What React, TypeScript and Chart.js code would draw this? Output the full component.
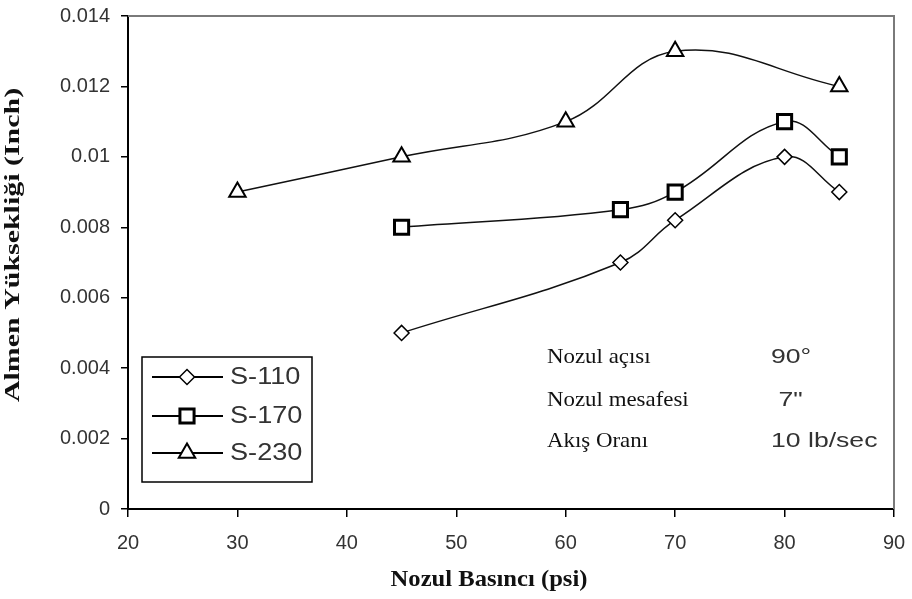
import React, { useEffect, useRef } from 'react';
import { Chart, registerables } from 'chart.js';

Chart.register(...registerables);

// ---- data ----
const xTickValues = [20, 30, 40, 50, 60, 70, 80, 90];
const yTickValues = [0, 0.002, 0.004, 0.006, 0.008, 0.01, 0.012, 0.014];
const yTickLabels = ['0', '0.002', '0.004', '0.006', '0.008', '0.01', '0.012', '0.014'];
const seriesNames = ['S-110', 'S-170', 'S-230'];
const pressureS110 = [45, 65, 70, 80, 85];
const heightS110 = [0.005, 0.007, 0.0082, 0.01, 0.009];
const pressureS170 = [45, 65, 70, 80, 85];
const heightS170 = [0.008, 0.0085, 0.009, 0.011, 0.01];
const pressureS230 = [30, 45, 60, 70, 85];
const heightS230 = [0.009, 0.01, 0.011, 0.013, 0.012];
const xTitle = 'Nozul Basıncı (psi)';
const yTitle = 'Almen Yüksekliği (Inch)';
const noteLabels = ['Nozul açısı', 'Nozul mesafesi', 'Akış Oranı'];
const noteValues = ['90°', ' 7"', '10 lb/sec'];

const SANS = '"Liberation Sans", Arial, sans-serif';
const SERIF = '"Liberation Serif", "Times New Roman", serif';

type MarkerDef = { style: string; radius: number; border: number };
const markers: MarkerDef[] = [
  { style: 'rectRot', radius: 7.5, border: 1.5 },
  { style: 'rect', radius: 10, border: 3 },
  { style: 'triangle', radius: 9.5, border: 2 },
];

function drawMarker(ctx: CanvasRenderingContext2D, m: MarkerDef, x: number, y: number) {
  const r = m.radius;
  ctx.save();
  ctx.beginPath();
  if (m.style === 'rectRot') {
    ctx.moveTo(x - r, y);
    ctx.lineTo(x, y - r);
    ctx.lineTo(x + r, y);
    ctx.lineTo(x, y + r);
    ctx.closePath();
  } else if (m.style === 'rect') {
    const s = Math.SQRT1_2 * r;
    ctx.rect(x - s, y - s, 2 * s, 2 * s);
  } else {
    let rad = 0;
    ctx.moveTo(x + Math.sin(rad) * r, y - Math.cos(rad) * r);
    rad += (2 * Math.PI) / 3;
    ctx.lineTo(x + Math.sin(rad) * r, y - Math.cos(rad) * r);
    rad += (2 * Math.PI) / 3;
    ctx.lineTo(x + Math.sin(rad) * r, y - Math.cos(rad) * r);
    ctx.closePath();
  }
  ctx.fillStyle = '#fff';
  ctx.fill();
  ctx.lineWidth = m.border;
  ctx.strokeStyle = '#000';
  ctx.stroke();
  ctx.restore();
}

function stretchedText(
  ctx: CanvasRenderingContext2D,
  text: string,
  x: number,
  y: number,
  font: string,
  sx: number,
  align: CanvasTextAlign,
  color: string,
  rotate = 0
) {
  ctx.save();
  ctx.font = font;
  ctx.fillStyle = color;
  ctx.textBaseline = 'middle';
  ctx.textAlign = align;
  ctx.translate(x, y);
  if (rotate) ctx.rotate(rotate);
  ctx.scale(sx, 1);
  ctx.fillText(text, 0, 0);
  ctx.restore();
}

const decorPlugin = {
  id: 'decor',
  beforeDatasetsDraw(chart: any) {
    const { ctx, chartArea: a } = chart;
    ctx.save();
    ctx.strokeStyle = '#7a7a7a';
    ctx.lineWidth = 2;
    ctx.beginPath();
    ctx.moveTo(a.left, a.top);
    ctx.lineTo(a.right, a.top);
    ctx.lineTo(a.right, a.bottom);
    ctx.stroke();
    ctx.restore();
  },
  afterDraw(chart: any) {
    const { ctx } = chart;
    // legend box
    const bx = 142, by = 357, bw = 170, bh = 125;
    ctx.save();
    ctx.fillStyle = '#fff';
    ctx.fillRect(bx, by, bw, bh);
    ctx.strokeStyle = '#000';
    ctx.lineWidth = 1.5;
    ctx.strokeRect(bx, by, bw, bh);
    ctx.restore();
    const rows = [377, 416, 453];
    seriesNames.forEach((name, i) => {
      const y = rows[i];
      ctx.save();
      ctx.strokeStyle = '#000';
      ctx.lineWidth = 2;
      ctx.beginPath();
      ctx.moveTo(152, y);
      ctx.lineTo(223, y);
      ctx.stroke();
      ctx.restore();
      drawMarker(ctx, markers[i], 187, y);
      stretchedText(ctx, name, 230, y + 1, `23px ${SANS}`, 1.18, 'left', '#333');
    });
    // notes
    const noteRows = [357, 400, 441];
    noteLabels.forEach((t, i) => {
      stretchedText(ctx, t, 547, noteRows[i], `22px ${SERIF}`, 1.04, 'left', '#111');
      stretchedText(ctx, noteValues[i], 771, noteRows[i], `20px ${SANS}`, 1.33, 'left', '#333');
    });
    // axis titles
    stretchedText(ctx, xTitle, 489, 580, `bold 23px ${SERIF}`, 1.07, 'center', '#111');
    stretchedText(ctx, yTitle, 13, 245, `bold 22px ${SERIF}`, 1.36, 'center', '#111', -Math.PI / 2);
  },
};

function makeDataset(i: number, xs: number[], ys: number[]) {
  const m = markers[i];
  return {
    label: seriesNames[i],
    data: xs.map((x, k) => ({ x, y: ys[k] })),
    borderColor: '#111',
    borderWidth: 1.5,
    tension: 0.4,
    fill: false,
    pointStyle: m.style,
    pointRadius: m.radius,
    pointHoverRadius: m.radius,
    pointBorderWidth: m.border,
    pointBackgroundColor: '#fff',
    pointBorderColor: '#000',
  };
}

export default function App() {
  const ref = useRef<HTMLCanvasElement | null>(null);
  useEffect(() => {
    if (!ref.current) return;
    const chart = new Chart(ref.current, {
      type: 'line',
      data: {
        datasets: [
          makeDataset(0, pressureS110, heightS110),
          makeDataset(1, pressureS170, heightS170),
          makeDataset(2, pressureS230, heightS230),
        ] as any,
      },
      options: {
        animation: false,
        responsive: false,
        devicePixelRatio: 1,
        layout: { padding: { left: 0, top: 16, right: 18, bottom: 0 } },
        plugins: { legend: { display: false }, tooltip: { enabled: false }, title: { display: false } },
        scales: {
          x: {
            type: 'linear',
            min: 20,
            max: 90,
            afterBuildTicks: (s: any) => {
              s.ticks = xTickValues.map((v) => ({ value: v }));
            },
            afterFit: (s: any) => {
              s.height = 90;
              s.paddingLeft = 0;
              s.paddingRight = 0;
            },
            ticks: {
              callback: (v: any) => String(v),
              font: { family: SANS, size: 20 },
              color: '#333',
              padding: 14,
              maxRotation: 0,
              autoSkip: false,
            },
            grid: { drawOnChartArea: false, drawTicks: true, tickLength: 8, color: '#000', lineWidth: 1.5 },
            border: { display: true, color: '#000', width: 2 },
          },
          y: {
            type: 'linear',
            min: 0,
            max: 0.014,
            afterBuildTicks: (s: any) => {
              s.ticks = yTickValues.map((v) => ({ value: v }));
            },
            afterFit: (s: any) => {
              s.width = 128;
              s.paddingTop = 0;
              s.paddingBottom = 0;
            },
            ticks: {
              callback: (_v: any, i: number) => yTickLabels[i],
              font: { family: SANS, size: 20 },
              color: '#333',
              padding: 11,
              autoSkip: false,
            },
            grid: { drawOnChartArea: false, drawTicks: true, tickLength: 7, color: '#000', lineWidth: 1.5 },
            border: { display: true, color: '#000', width: 2 },
          },
        },
      } as any,
      plugins: [decorPlugin],
    });
    return () => chart.destroy();
  }, []);
  return (
    <canvas
      ref={ref}
      width={912}
      height={599}
      style={{ position: 'fixed', left: 0, top: 0, width: 912, height: 599, display: 'block', background: '#fff' }}
    />
  );
}
